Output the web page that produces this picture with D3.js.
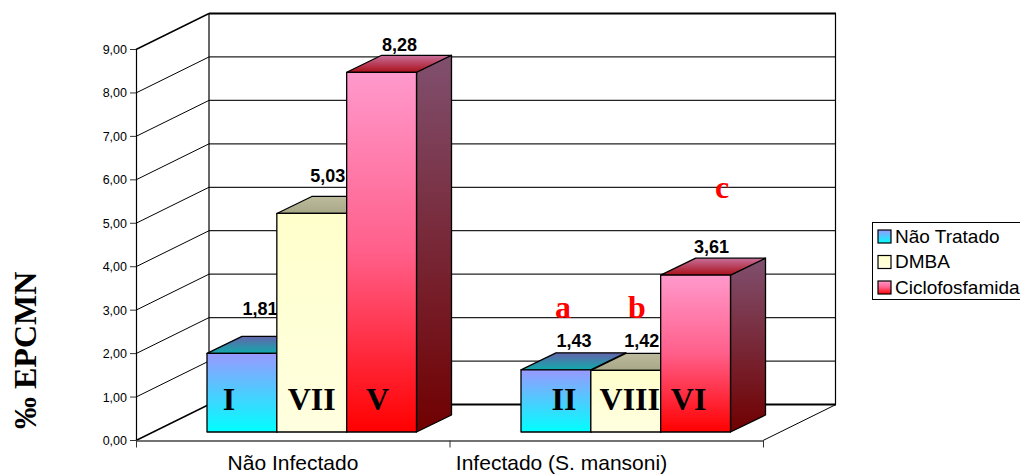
<!DOCTYPE html>
<html>
<head>
<meta charset="utf-8">
<script src="https://cdn.jsdelivr.net/npm/d3@7"></script>
<style>
  html, body { margin: 0; padding: 0; background: #fff; }
  svg { display: block; }
  text { font-family: "Liberation Sans", Arial, sans-serif; fill: #000; }
  .serif { font-family: "Liberation Serif", "Times New Roman", serif; font-weight: bold; }
</style>
</head>
<body>
<svg id="chart" width="1020" height="475"></svg>
<script>
const groups = ['Não Infectado', 'Infectado (S. mansoni)'];
const seriesNames = ['Não Tratado', 'DMBA', 'Ciclofosfamida'];
const valuesNaoInfectado = [1.81, 5.03, 8.28];
const valuesInfectado = [1.43, 1.42, 3.61];
const romanNaoInfectado = ['I', 'VII', 'V'];
const romanInfectado = ['II', 'VIII', 'VI'];
const lettersInfectado = ['a', 'b', 'c'];
const letterLevels = [2.82, 2.82, 5.58];
const yTicks = [0, 1, 2, 3, 4, 5, 6, 7, 8, 9];
const yTitle = '‰ EPCMN';

const fmt = v => v.toFixed(2).replace('.', ',');

const svg = d3.select('#chart');
const defs = svg.append('defs');

const y = d3.scaleLinear().domain([0, 9]).range([440.5, 49.5]);
const xGroup = d3.scaleBand().domain(groups).range([136, 763]);
const xSeries = d3.scaleBand().domain(seriesNames).range([0, 209.5]);

// depth offsets of the 3d box
const wallDx = 73, wallDy = -36;
const barDx = 35, barDy = -17;
const barLift = 8.5;
const groupStart = [71, 71.5];

// hand nudges, the labels in the original sit where someone dragged them
const labelNudge = [[[0, -17], [-2, -10], [0, 0]], [[0, -2], [-2, -2], [-2, -1]]];
const romanNudge = [[-13, 0, -4], [8, 4, -7]];

function gradient(id, stops) {
  const g = defs.append('linearGradient').attr('id', id)
    .attr('x1', 0).attr('y1', 0).attr('x2', 0).attr('y2', 1);
  stops.forEach((c, i) => g.append('stop').attr('offset', i / (stops.length - 1)).attr('stop-color', c));
}
gradient('front0', ['#9999ff', '#00ffff']);
gradient('front1', ['#ffffcc', '#ffffe0']);
gradient('front2', ['#ff99cc', '#ff5f8a', '#ff0000']);
gradient('top0', ['#6464ac', '#10aaaa']);
gradient('top1', ['#bcbc9c', '#a8a888']);
gradient('top2', ['#c8709c', '#aa0f18']);
gradient('side0', ['#666699', '#007777']);
gradient('side1', ['#88886c', '#888870']);
gradient('side2', ['#80506f', '#700000']);

// walls and gridlines
const wall = svg.append('g');
yTicks.forEach(t => {
  const py = y(t);
  if (t > 0) {
    wall.append('line').attr('x1', 136).attr('y1', py).attr('x2', 136 + wallDx).attr('y2', py + wallDy)
      .attr('stroke', '#000').attr('stroke-width', t === 9 ? 1.4 : 1);
    wall.append('line').attr('x1', 136 + wallDx).attr('y1', py + wallDy).attr('x2', 763 + wallDx).attr('y2', py + wallDy)
      .attr('stroke', t === 9 ? '#000' : '#222').attr('stroke-width', t === 9 ? 2 : 1.2);
  }
});
wall.append('line').attr('x1', 209).attr('y1', y(0) + wallDy).attr('x2', 836).attr('y2', y(0) + wallDy)
  .attr('stroke', '#000').attr('stroke-width', 2);
wall.append('line').attr('x1', 209).attr('y1', y(9) + wallDy).attr('x2', 209).attr('y2', y(0) + wallDy)
  .attr('stroke', '#000').attr('stroke-width', 1.2);
wall.append('line').attr('x1', 835.5).attr('y1', y(9) + wallDy).attr('x2', 835.5).attr('y2', y(0) + wallDy)
  .attr('stroke', '#000').attr('stroke-width', 1.2);
// floor
wall.append('line').attr('x1', 136).attr('y1', y(0)).attr('x2', 209).attr('y2', y(0) + wallDy)
  .attr('stroke', '#000').attr('stroke-width', 1.4);
wall.append('line').attr('x1', 763).attr('y1', y(0)).attr('x2', 836).attr('y2', y(0) + wallDy)
  .attr('stroke', '#000').attr('stroke-width', 1);

// axis
const axis = svg.append('g');
axis.append('line').attr('x1', 136.5).attr('y1', y(9)).attr('x2', 136.5).attr('y2', y(0))
  .attr('stroke', '#000').attr('stroke-width', 1.2);
axis.append('line').attr('x1', 136).attr('y1', y(0) + 0.5).attr('x2', 763).attr('y2', y(0) + 0.5)
  .attr('stroke', '#444').attr('stroke-width', 1.6);
yTicks.forEach(t => {
  axis.append('line').attr('x1', 130).attr('y1', y(t)).attr('x2', 136).attr('y2', y(t))
    .attr('stroke', '#333').attr('stroke-width', 1);
  axis.append('text').attr('x', 127).attr('y', y(t) + 4.5).attr('text-anchor', 'end')
    .attr('font-size', 12.5).text(fmt(t));
});
[xGroup(groups[0]), xGroup(groups[1]), xGroup(groups[1]) + xGroup.bandwidth()].forEach(px => {
  axis.append('line').attr('x1', px + 0.5).attr('y1', y(0)).attr('x2', px + 0.5).attr('y2', y(0) + 7)
    .attr('stroke', '#333').attr('stroke-width', 1);
});
groups.forEach((g, i) => {
  axis.append('text').attr('x', xGroup(g) + xGroup.bandwidth() / 2 + [0.25, -44.75][i]).attr('y', 470)
    .attr('text-anchor', 'middle').attr('font-size', 21).text(g);
});

// bars, drawn left to right so each bar covers the label of the previous one
function drawGroup(groupName, idx, values, romans) {
  const layer = svg.append('g');
  const x0 = xGroup(groupName) + groupStart[idx];
  const base = y(0) - barLift;
  const unit = y(0) - y(1);
  values.forEach((v, i) => {
    const left = x0 + xSeries(seriesNames[i]);
    const right = left + xSeries.bandwidth();
    const top = base - v * unit;
    const g = layer.append('g').attr('stroke', '#000').attr('stroke-width', 1.3).attr('stroke-linejoin', 'round');
    g.append('path').attr('fill', `url(#side${i})`)
      .attr('d', d3.line()([[right, top], [right + barDx, top + barDy], [right + barDx, base + barDy], [right, base]]) + 'Z');
    g.append('path').attr('fill', `url(#top${i})`)
      .attr('d', d3.line()([[left, top], [left + barDx, top + barDy], [right + barDx, top + barDy], [right, top]]) + 'Z');
    g.append('rect').attr('x', left).attr('y', top).attr('width', right - left).attr('height', base - top)
      .attr('fill', `url(#front${i})`);
    const [nx, ny] = labelNudge[idx][i];
    layer.append('text').attr('x', left + xSeries.bandwidth() / 2 + 18 + nx).attr('y', top + barDy - 4 + ny)
      .attr('text-anchor', 'middle').attr('font-size', 18).attr('font-weight', 'bold').text(fmt(v));
    layer.append('text').attr('class', 'serif').attr('x', left + xSeries.bandwidth() / 2 + romanNudge[idx][i])
      .attr('y', 410).attr('text-anchor', 'middle').attr('font-size', 32).text(romans[i]);
  });
}
drawGroup(groups[0], 0, valuesNaoInfectado, romanNaoInfectado);
drawGroup(groups[1], 1, valuesInfectado, romanInfectado);

// significance letters
const letterX = [563, 637, 722];
lettersInfectado.forEach((l, i) => {
  svg.append('text').attr('class', 'serif').attr('x', letterX[i]).attr('y', y(letterLevels[i]))
    .attr('text-anchor', 'middle').attr('font-size', 32).style('fill', '#ff0000').text(l);
});

// y title
svg.append('text').attr('class', 'serif').attr('transform', 'translate(36,429) rotate(-90)')
  .attr('font-size', 32).text(yTitle);

// legend
const legend = svg.append('g');
legend.append('rect').attr('x', 872.5).attr('y', 222.5).attr('width', 150).attr('height', 77)
  .attr('fill', '#fff').attr('stroke', '#000').attr('stroke-width', 1);
seriesNames.forEach((s, i) => {
  const ly = 236 + i * 25.5;
  legend.append('rect').attr('x', 878).attr('y', ly - 6).attr('width', 13).attr('height', 13)
    .attr('fill', `url(#front${i})`).attr('stroke', '#000').attr('stroke-width', 1.2);
  legend.append('text').attr('x', 895).attr('y', ly + 6.5).attr('font-size', 19).text(s);
});
</script>
</body>
</html>
